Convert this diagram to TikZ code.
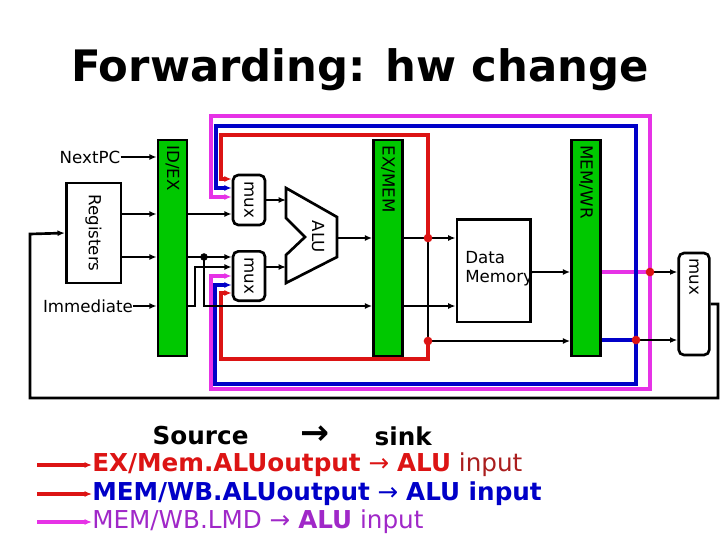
\documentclass[tikz,border=0pt]{standalone}
\usepackage{fontspec}
\setmainfont{DejaVu Sans}
\usetikzlibrary{calc, arrows.meta}
\definecolor{regGreen}{RGB}{0,200,0}
\definecolor{fwdRed}{RGB}{220,20,20}
\definecolor{fwdBlue}{RGB}{0,0,200}
\definecolor{fwdPink}{RGB}{230,50,230}
\definecolor{txtPurple}{RGB}{160,40,200}
\definecolor{txtDark}{RGB}{170,30,30}
\tikzset{
    wire/.style = {line width = 2pt},
    fwd/.style = {line width = 2.3pt},
    bar/.style = {draw, fill = regGreen, line width = 2pt, minimum width = 21.75pt, minimum height = 162pt},
    box/.style = {draw, fill = white, line width = 2pt},
    mux/.style = {box, rounded corners = 4pt, minimum width = 24pt},
    lbl/.style = {font = \fontsize{12.5}{14}\selectfont, inner sep = 0pt},
    dot/.style = {circle, fill = fwdRed, inner sep = 0pt, minimum size = 6.5pt}
}
\begin{document}
\begin{tikzpicture}[x = 0.75pt, y = -0.75pt, >={Latex[length = 5.5pt, width = 4.5pt]}]
    \useasboundingbox (0, 0) rectangle (720, 540);

    \node[font = \fontsize{32.5}{40}\selectfont\bfseries] (title) at (360, 70){Forwarding: hw change};

    % pipeline registers
    \node[bar] (idex) at (172.5, 248){};
    \node[bar] (exmem) at (388, 248){};
    \node[bar] (memwr) at (586, 248){};
    \node[lbl, rotate = -90, anchor = west] at ([yshift = -5pt]idex.north){ID/EX};
    \node[lbl, rotate = -90, anchor = west] at ([yshift = -5pt]exmem.north){EX/MEM};
    \node[lbl, rotate = -90, anchor = west] at ([yshift = -5pt]memwr.north){MEM/WR};

    % units
    \node[box, minimum width = 41pt, minimum height = 75pt] (regs) at (93.5, 233){};
    \node[lbl, rotate = -90] at (regs){Registers};
    \node[lbl] (nextpc) at (90, 157){NextPC};
    \node[lbl] (imm) at (88, 306){Immediate};
    \node[mux, minimum height = 37.5pt] (upmux) at (249, 200){};
    \node[lbl, rotate = -90] at (upmux){mux};
    \node[mux, minimum height = 37pt] (lomux) at (249, 276){};
    \node[lbl, rotate = -90] at (lomux){mux};
    \node[mux, minimum width = 23pt, minimum height = 76.5pt] (rmux) at (694, 304){};
    \node[lbl, rotate = -90, anchor = west] at ([yshift = -5pt]rmux.north){mux};
    \node[box, minimum width = 55pt, minimum height = 77pt] (dmem) at (493.5, 270.5){};
    \node[lbl, anchor = north west, align = left] at (465, 251){Data\\Memory};

    \draw[wire, fill = white] (286, 188) -- (337, 217) -- (337, 257) -- (286, 283) -- (286, 255) -- (305, 237) -- (286, 218) -- cycle;
    \node[lbl, rotate = -90] (alu) at (318, 237){ALU};

    % helper points
    \coordinate (alua) at (286, 200);
    \coordinate (alub) at (286, 267);
    \coordinate (aluo) at (337, 238);
    \coordinate (sd) at (204, 257);
    \coordinate (fa) at (428, 238);
    \coordinate (fb) at (428, 341);
    \coordinate (fm) at (650, 272);
    \coordinate (fw) at (636, 340);
    \coordinate (ya) at (0, 214);
    \coordinate (yimm) at (0, 306);
    \coordinate (yc) at (0, 267);
    \coordinate (yr1) at (0, 179);
    \coordinate (yr2) at (0, 293);
    \coordinate (yb1) at (0, 188);
    \coordinate (yb2) at (0, 285);
    \coordinate (ym1) at (0, 197);
    \coordinate (ym2) at (0, 276);

    % forwarding paths
    \draw[fwd, fwdPink, ->] (fm) |- (211, 116) |- (upmux.west |- ym1);
    \draw[fwd, fwdPink, ->] (fm) |- (211, 389) |- (lomux.west |- ym2);
    \draw[fwd, fwdPink] (memwr.east |- fm) -- (fm);
    \draw[fwd, fwdBlue, ->] (fw) |- (216, 126) |- (upmux.west |- yb1);
    \draw[fwd, fwdBlue, ->] (fw) |- (215, 384) |- (lomux.west |- yb2);
    \draw[fwd, fwdBlue] (memwr.east |- fw) -- (fw);
    \draw[fwd, fwdRed, ->] (fa) |- (221, 135) |- (upmux.west |- yr1);
    \draw[fwd, fwdRed, ->] (fb) |- (221, 359) |- (lomux.west |- yr2);

    % data path
    \draw[wire, ->] (nextpc.east) -- (idex.west |- nextpc);
    \draw[wire, ->] (regs.east |- ya) -- (idex.west |- ya);
    \draw[wire, ->] (regs.east |- sd) -- (idex.west |- sd);
    \draw[wire, ->] (imm.east) -- (idex.west |- imm);
    \draw[wire, ->] (idex.east |- ya) -- (upmux.west |- ya);
    \draw[wire, ->] (idex.east |- sd) -- (lomux.west |- sd);
    \draw[wire, ->] (sd) |- (exmem.west |- yimm);
    \filldraw (sd) circle (2.6pt);
    \draw[wire, ->] (idex.east |- yimm) -- (195, 306) |- (lomux.west |- yc);
    \draw[wire, ->] (upmux.east |- alua) -- (alua);
    \draw[wire, ->] (lomux.east |- alub) -- (alub);
    \draw[wire, ->] (aluo) -- (exmem.west |- aluo);
    \draw[wire, ->] (exmem.east |- aluo) -- (dmem.west |- aluo);
    \draw[wire, ->] (exmem.east |- yimm) -- (dmem.west |- yimm);
    \draw[wire, ->] (fa) -- (fb) -- (memwr.west |- fb);
    \draw[wire, ->] (dmem.east |- fm) -- (memwr.west |- fm);
    \draw[wire, ->] (fm) -- (rmux.west |- fm);
    \draw[wire, ->] (fw) -- (rmux.west |- fw);
    \draw[wire, ->] (rmux.east) -| (718, 398) -| (30, 234) -- (regs.west);

    \foreach \p in {fa, fb, fm, fw}
        \node[dot] at (\p){};

    % legend
    \begin{scope}[font = \fontsize{18.5}{22}\selectfont]
        \node[anchor = west, font = \fontsize{18.5}{22}\selectfont\bfseries] (src) at (148, 436){Source};
        \node[font = \fontsize{26}{28}\selectfont\bfseries] (to) at (315, 435){→};
        \node[anchor = west, font = \fontsize{18.5}{22}\selectfont\bfseries] (snk) at (370, 436){sink};
        \coordinate (l1) at (37, 465);
        \coordinate (l2) at (37, 494);
        \coordinate (l3) at (37, 522);
        \node[anchor = west, inner xsep = 0pt] (t1) at (92, 465){\textcolor{fwdRed}{\textbf{EX/Mem.ALUoutput} → \textbf{ALU}} \textcolor{txtDark}{input}};
        \node[anchor = west, inner xsep = 0pt, text = fwdBlue] (t2) at (92, 494){\textbf{MEM/WB.ALUoutput} → \textbf{ALU input}};
        \node[anchor = west, inner xsep = 0pt, text = txtPurple] (t3) at (92, 522){MEM/WB.LMD → \textbf{ALU} input};
        \draw[fwd, fwdRed, ->] (l1) -- (t1.west);
        \draw[fwd, fwdRed, ->] (l2) -- (t2.west);
        \draw[fwd, fwdPink, ->] (l3) -- (t3.west);
    \end{scope}
\end{tikzpicture}
\end{document}
